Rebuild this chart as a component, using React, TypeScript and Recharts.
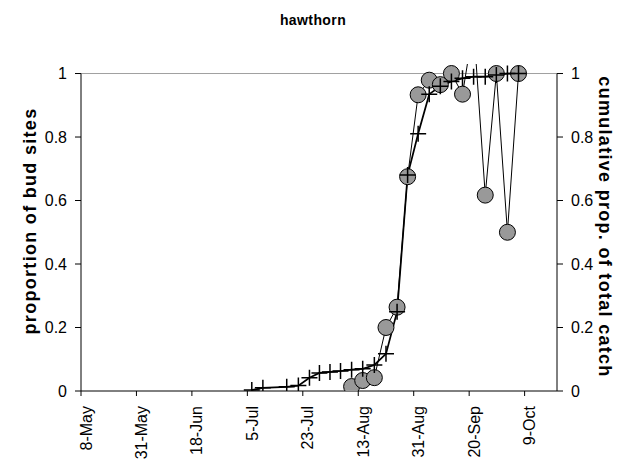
import React from 'react';
import { LineChart, Line, XAxis, YAxis, ReferenceLine } from 'recharts';

const FONT = '"Liberation Sans", Arial, sans-serif';

// x positions in tick-interval units (tick i = label i)
const xPos = [3.08, 3.28, 3.71, 3.92, 4.12, 4.30, 4.49, 4.68, 4.88, 5.08, 5.29, 5.50, 5.70, 5.89, 6.08, 6.28, 6.48, 6.68, 6.88, 7.08, 7.29, 7.49, 7.69, 7.89];
// proportion of bud sites (circles)
const budSites = [null, null, null, null, null, null, null, null, 0.014, 0.033, 0.042, 0.20, 0.264, 0.675, 0.933, 0.979, 0.965, 1.0, 0.935, 1.15, 0.617, 1.0, 0.50, 1.0];
// cumulative proportion of total catch (crosses)
const cumCatch = [0.003, 0.01, 0.013, 0.017, 0.042, 0.057, 0.06, 0.063, 0.067, 0.07, 0.082, 0.117, 0.25, 0.68, 0.81, 0.935, 0.96, 0.975, 0.985, 0.99, 0.99, 0.995, 1.0, 1.0];

const xLabels = ['8-May', '31-May', '18-Jun', '5-Jul', '23-Jul', '13-Aug', '31-Aug', '20-Sep', '9-Oct'];
const xTicks = [0, 1, 2, 3, 4, 5, 6, 7, 8];
const X_MAX = 8.584;
const yTicks = [0, 0.2, 0.4, 0.6, 0.8, 1];
const Y_MAX = 1.03;

const data = xPos.map((x, i) => ({ x, bud: budSites[i], cum: cumCatch[i] }));

function XTick(props: any) {
  const { x, y, payload } = props;
  const tx = x + 5;
  const ty = y + 8;
  return (
    <text x={tx} y={ty} transform={`rotate(-90 ${tx} ${ty})`} textAnchor="end" dominantBaseline="central" fontSize={16} fontFamily={FONT} fill="#000">
      {xLabels[payload.value]}
    </text>
  );
}

function CrossDot(props: any) {
  const { cx, cy, index } = props;
  if (cx == null || cy == null) return <g key={`c-${index}`} />;
  return (
    <path key={`c-${index}`} d={`M${cx - 8},${cy}H${cx + 8}M${cx},${cy - 8}V${cy + 8}`} stroke="#000" strokeWidth={1.5} fill="none" />
  );
}

const leftLabel = () => (
  <text x={30} y={221} transform="rotate(-90 30 221)" textAnchor="middle" dominantBaseline="central" fontWeight="bold" fontSize={18} letterSpacing={1.3} fontFamily={FONT} fill="#000">
    proportion of bud sites
  </text>
);

const rightLabel = () => (
  <text x={605} y={227} transform="rotate(90 605 227)" textAnchor="middle" dominantBaseline="central" fontWeight="bold" fontSize={18} letterSpacing={1.3} fontFamily={FONT} fill="#000">
    cumulative prop. of total catch
  </text>
);

export default function App() {
  const tickStyle = { fill: '#000', fontSize: 16, fontFamily: FONT };
  return (
    <div style={{ position: 'absolute', left: 0, top: 0, width: 626, height: 469, background: '#fff' }}>
      <div style={{ position: 'absolute', top: 11, left: 0, width: 626, textAlign: 'center', fontFamily: FONT, fontWeight: 'bold', fontSize: 14, lineHeight: '18px', letterSpacing: '0.4px' }}>
        hawthorn
      </div>
      <LineChart width={626} height={469} data={data} margin={{ top: 64, right: 0, bottom: 8, left: 0 }}>
        <XAxis
          dataKey="x"
          type="number"
          domain={[0, X_MAX]}
          allowDataOverflow
          ticks={xTicks}
          interval={0}
          height={70}
          tickSize={5}
          axisLine={{ stroke: '#000' }}
          tickLine={{ stroke: '#000' }}
          tick={<XTick />}
        />
        <YAxis
          yAxisId="l"
          width={81}
          domain={[0, Y_MAX]}
          allowDataOverflow
          ticks={yTicks}
          interval={0}
          axisLine={false}
          tickLine={{ stroke: '#000' }}
          tickSize={6}
          tickMargin={8}
          tick={tickStyle}
          tickFormatter={(v: number) => String(v)}
          label={leftLabel}
        />
        <YAxis
          yAxisId="r"
          orientation="right"
          width={69}
          domain={[0, Y_MAX]}
          allowDataOverflow
          ticks={yTicks}
          interval={0}
          axisLine={false}
          tickLine={{ stroke: '#000' }}
          tickSize={6}
          tickMargin={8}
          tick={tickStyle}
          tickFormatter={(v: number) => String(v)}
          label={rightLabel}
        />
        <ReferenceLine yAxisId="l" y={1} stroke="#a0a0a0" strokeWidth={1} ifOverflow="visible" />
        <ReferenceLine yAxisId="l" segment={[{ x: 0, y: 0 }, { x: 0, y: 1 }]} stroke="#000" strokeWidth={1} ifOverflow="visible" />
        <ReferenceLine yAxisId="r" segment={[{ x: X_MAX, y: 0 }, { x: X_MAX, y: 1 }]} stroke="#000" strokeWidth={1} ifOverflow="visible" />
        <Line
          yAxisId="l"
          dataKey="bud"
          type="linear"
          stroke="#000"
          strokeWidth={1}
          dot={{ r: 8, fill: '#999999', stroke: '#000', strokeWidth: 1 }}
          activeDot={false}
          isAnimationActive={false}
        />
        <Line
          yAxisId="r"
          dataKey="cum"
          type="linear"
          stroke="#000"
          strokeWidth={1.75}
          dot={CrossDot}
          activeDot={false}
          isAnimationActive={false}
        />
      </LineChart>
    </div>
  );
}
